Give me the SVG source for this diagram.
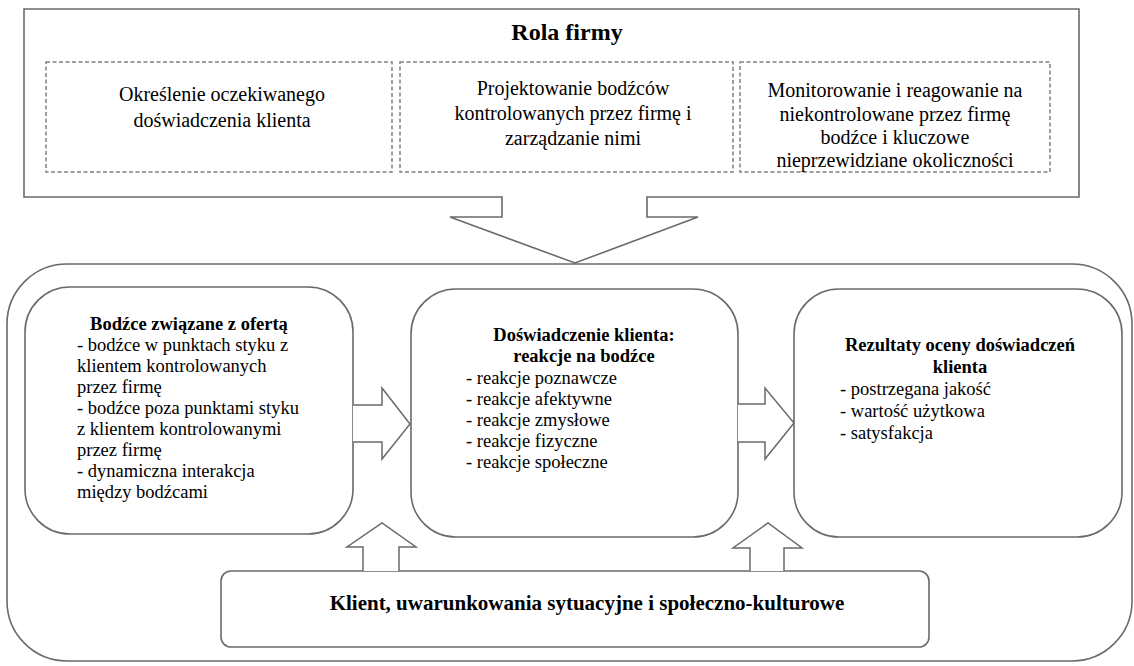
<svg xmlns="http://www.w3.org/2000/svg" width="1134" height="666" viewBox="0 0 1134 666" font-family="'Liberation Serif', 'DejaVu Serif', serif">
  <style>
    .frame { fill: #ffffff; stroke: #6a6a6a; stroke-width: 1.6; }
    .dash { fill: none; stroke: #808080; stroke-width: 1.5; stroke-dasharray: 4 2.5; }
    .arrow { fill: #ffffff; stroke: #6a6a6a; stroke-width: 1.5; stroke-linejoin: miter; }
    text { font-family: 'Liberation Serif', 'DejaVu Serif', serif; fill: #000000; }
    .title { font-size: 24px; font-weight: bold; text-anchor: middle; }
    .role { font-size: 20px; text-anchor: middle; }
    .head { font-size: 18.5px; font-weight: bold; text-anchor: middle; }
    .item { font-size: 18.5px; }
    .base { font-size: 21px; font-weight: bold; text-anchor: middle; }
  </style>

  <!-- outer frame holding the experience flow -->
  <g id="experience-frame">
    <rect class="frame" x="7" y="264" width="1125" height="397" rx="60" ry="60"/>
  </g>

  <!-- company role callout pointing down into the frame -->
  <g id="company-role">
    <path class="frame" d="M24,9 H1079 V197 H647 V217 H698 L575,263 L450,217 H502 V197 H24 Z"/>
    <text class="title" x="567" y="40">Rola firmy</text>
    <g id="role-define">
      <rect class="dash" x="46" y="62" width="346" height="110"/>
      <text class="role" x="222" y="101">Określenie oczekiwanego</text>
      <text class="role" x="222" y="127">doświadczenia klienta</text>
    </g>
    <g id="role-design">
      <rect class="dash" x="400" y="62" width="333" height="110"/>
      <text class="role" x="573" y="95">Projektowanie bodźców</text>
      <text class="role" x="573" y="120">kontrolowanych przez firmę i</text>
      <text class="role" x="573" y="145">zarządzanie nimi</text>
    </g>
    <g id="role-monitor">
      <rect class="dash" x="740" y="62" width="310" height="110"/>
      <text class="role" x="895" y="97">Monitorowanie i reagowanie na</text>
      <text class="role" x="895" y="120.5">niekontrolowane przez firmę</text>
      <text class="role" x="895" y="144">bodźce i kluczowe</text>
      <text class="role" x="895" y="167">nieprzewidziane okoliczności</text>
    </g>
  </g>

  <!-- stimuli -->
  <g id="stimuli">
    <rect class="frame" x="25" y="287" width="328" height="247" rx="45" ry="45"/>
    <text class="head" x="189" y="330">Bodźce związane z ofertą</text>
    <text class="item" x="77" y="351">- bodźce w punktach styku z</text>
    <text class="item" x="77" y="372">klientem kontrolowanych</text>
    <text class="item" x="77" y="393">przez firmę</text>
    <text class="item" x="77" y="414">- bodźce poza punktami styku</text>
    <text class="item" x="77" y="435">z klientem kontrolowanymi</text>
    <text class="item" x="77" y="456">przez firmę</text>
    <text class="item" x="77" y="477">- dynamiczna interakcja</text>
    <text class="item" x="77" y="498">między bodźcami</text>
  </g>

  <!-- customer experience -->
  <g id="experience">
    <rect class="frame" x="411" y="289" width="327" height="248" rx="45" ry="45"/>
    <text class="head" x="584" y="341">Doświadczenie klienta:</text>
    <text class="head" x="584" y="362">reakcje na bodźce</text>
    <text class="item" x="466" y="384">- reakcje poznawcze</text>
    <text class="item" x="466" y="405">- reakcje afektywne</text>
    <text class="item" x="466" y="426">- reakcje zmysłowe</text>
    <text class="item" x="466" y="447">- reakcje fizyczne</text>
    <text class="item" x="466" y="468">- reakcje społeczne</text>
  </g>

  <!-- outcomes -->
  <g id="outcomes">
    <rect class="frame" x="794" y="289" width="328" height="248" rx="45" ry="45"/>
    <text class="head" x="960" y="351">Rezultaty oceny doświadczeń</text>
    <text class="head" x="960" y="373">klienta</text>
    <text class="item" x="840" y="395">- postrzegana jakość</text>
    <text class="item" x="840" y="417">- wartość użytkowa</text>
    <text class="item" x="840" y="439">- satysfakcja</text>
  </g>

  <!-- customer and context -->
  <g id="context">
    <rect class="frame" x="221" y="571" width="708" height="76" rx="10" ry="10"/>
    <text class="base" x="587" y="610">Klient, uwarunkowania sytuacyjne i społeczno-kulturowe</text>
  </g>

  <!-- block arrows between the boxes -->
  <g id="connectors">
    <path class="arrow" d="M353,405 H382 V388 L410,424 L382,459 V442 H353"/>
    <path class="arrow" d="M738,404 H765 V388 L794,423 L765,459 V442 H738"/>
    <path class="arrow" d="M363,571 V547 H347 L382,523 L416,547 H399 V571"/>
    <path class="arrow" d="M750,571 V548 H733 L768,523 L802,548 H784 V571"/>
  </g>
</svg>
